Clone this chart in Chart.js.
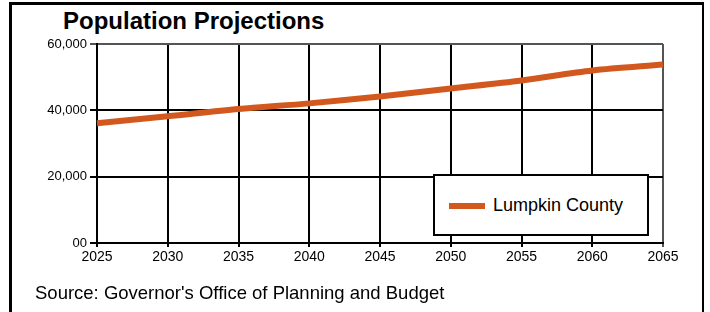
<!DOCTYPE html>
<html>
<head>
<meta charset="utf-8">
<script src="https://cdn.jsdelivr.net/npm/chart.js@4"></script>
<style>
  body { margin: 0; background: #fff; font-family: "Liberation Sans", Arial, sans-serif; }
  #wrap { position: relative; width: 710px; height: 312px; overflow: hidden; }
  #frame { position: absolute; left: 9px; top: 2px; width: 690px; height: 330px; border: 3px solid #000; border-right-width: 2px; }
  #title { position: absolute; left: 63px; top: 7px; font-size: 24px; font-weight: bold; color: #000; }
  #source { position: absolute; left: 35px; top: 282px; font-size: 18.5px; color: #000; }
  #chart { position: absolute; left: 0; top: 0; }
  #legend { position: absolute; left: 433px; top: 174px; width: 212px; height: 58px; border: 2px solid #000; background: #fff; }
  .legend-line { position: absolute; left: 14px; top: 27px; width: 36px; height: 6px; }
  .legend-label { position: absolute; left: 58px; top: 19px; font-size: 18px; color: #000; }
</style>
</head>
<body>
<div id="wrap">
  <div id="frame"></div>
  <div id="title">Population Projections</div>
  <canvas id="chart" width="710" height="312"></canvas>
  <div id="legend"></div>
  <div id="source">Source: Governor's Office of Planning and Budget</div>
</div>
<script>
const years = ["2025", "2030", "2035", "2040", "2045", "2050", "2055", "2060", "2065"];
const lumpkinCounty = [36100, 38200, 40400, 42100, 44200, 46600, 49000, 52000, 53800];
const yTicks = [0, 20000, 40000, 60000];

const seriesName = "Lumpkin County";
const seriesColor = "#D2581E";

function formatTick(value) {
  if (value === 0) return "00";
  return value.toLocaleString("en-US");
}

const ctx = document.getElementById("chart").getContext("2d");

new Chart(ctx, {
  type: "line",
  data: {
    labels: years,
    datasets: [
      {
        label: seriesName,
        data: lumpkinCounty,
        borderColor: seriesColor,
        borderWidth: 6,
        pointRadius: 0,
        tension: 0.3,
        fill: false,
      },
    ],
  },
  options: {
    responsive: false,
    animation: false,
    layout: { padding: { top: 44, right: 47, left: 0, bottom: 0 } },
    plugins: {
      legend: { display: false },
      tooltip: { enabled: false },
    },
    scales: {
      x: {
        offset: false,
        afterFit: (scale) => { scale.height = 69; },
        grid: {
          color: (c) => (c.index === years.length - 1 ? "#555" : "#000"),
          lineWidth: 2,
          tickLength: 4,
        },
        border: { color: "#000", width: 2 },
        ticks: {
          color: "#000",
          font: { family: "Liberation Sans", size: 14 },
          padding: 2,
          maxRotation: 0,
        },
      },
      y: {
        min: 0,
        max: 60000,
        afterFit: (scale) => { scale.width = 97; },
        afterBuildTicks: (scale) => {
          scale.ticks = yTicks.map((v) => ({ value: v }));
        },
        grid: {
          color: (c) => (c.tick && c.tick.value === 60000 ? "#555" : "#000"),
          lineWidth: 2,
          tickLength: 7,
        },
        border: { color: "#000", width: 2 },
        ticks: {
          color: "#000",
          font: { family: "Liberation Sans", size: 13 },
          padding: 3,
          callback: (value) => formatTick(value),
        },
      },
    },
  },
});

const legendContainer = document.getElementById("legend");
legendContainer.innerHTML = `
  <span class="legend-line" style="background-color: ${seriesColor}"></span>
  <span class="legend-label">${seriesName}</span>
`;
</script>
</body>
</html>
